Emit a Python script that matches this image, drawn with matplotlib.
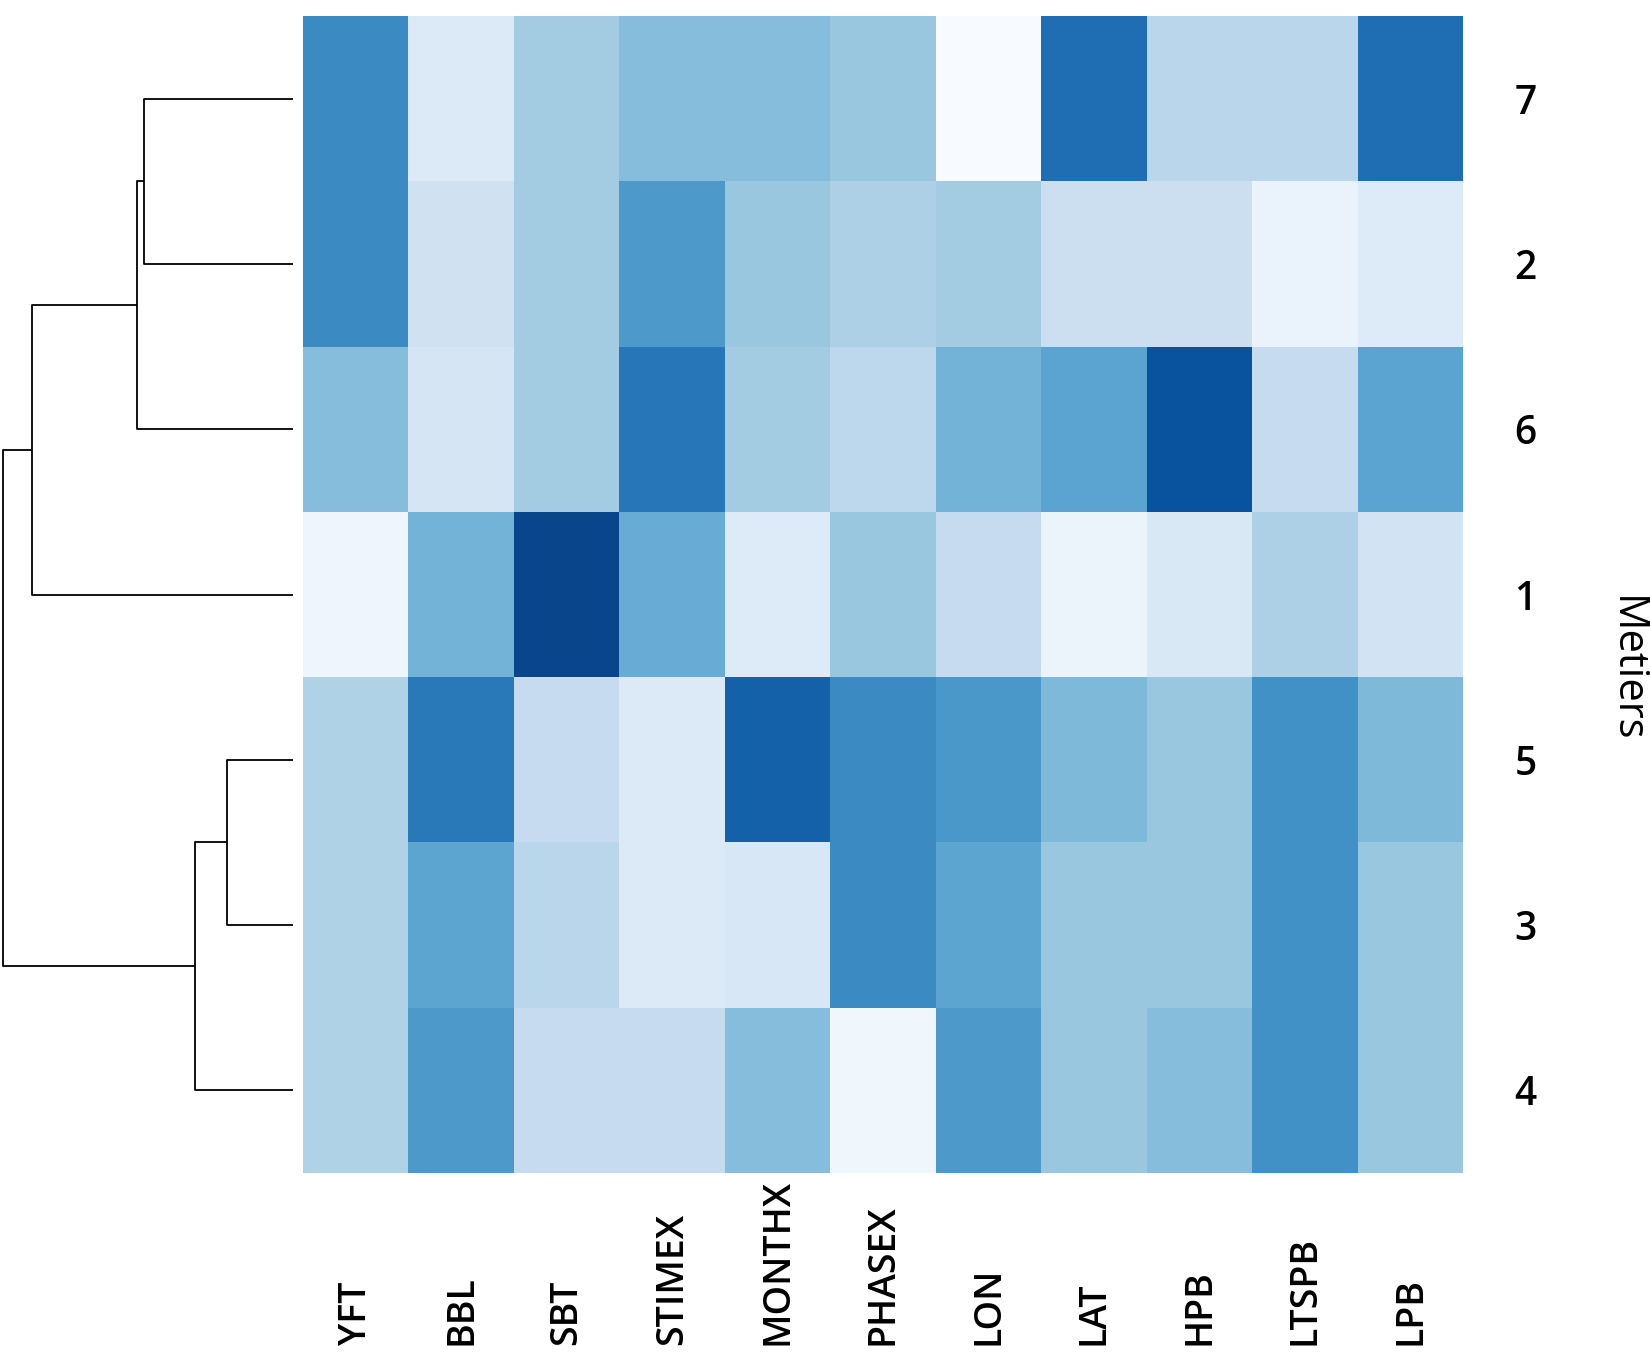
import matplotlib
matplotlib.use("Agg")
import matplotlib.pyplot as plt
import numpy as np

plt.rcParams["font.family"] = ["Open Sans", "DejaVu Sans"]

# ── data ──
variables = ["YFT", "BBL", "SBT", "STIMEX", "MONTHX", "PHASEX",
             "LON", "LAT", "HPB", "LTSPB", "LPB"]
metiers = ["7", "2", "6", "1", "5", "3", "4"]   # order after clustering (top to bottom)

m7 = [0.65, 0.14, 0.36, 0.43, 0.43, 0.39, 0.00, 0.76, 0.29, 0.29, 0.76]
m2 = [0.65, 0.20, 0.36, 0.59, 0.39, 0.33, 0.36, 0.22, 0.22, 0.07, 0.13]
m6 = [0.43, 0.17, 0.36, 0.73, 0.36, 0.28, 0.48, 0.55, 0.87, 0.25, 0.55]
m1 = [0.05, 0.48, 0.92, 0.51, 0.13, 0.39, 0.25, 0.06, 0.15, 0.33, 0.19]
m5 = [0.32, 0.72, 0.25, 0.14, 0.81, 0.65, 0.60, 0.45, 0.39, 0.625, 0.45]
m3 = [0.32, 0.54, 0.29, 0.14, 0.16, 0.65, 0.54, 0.39, 0.39, 0.625, 0.39]
m4 = [0.32, 0.59, 0.25, 0.25, 0.43, 0.04, 0.59, 0.39, 0.43, 0.625, 0.39]

# row linkage: (left, right, merge distance); new clusters get ids c0, c1, ...
linkage = [
    ("7", "2", 1.41),     # c0
    ("c0", "6", 1.48),    # c1
    ("c1", "1", 2.48),    # c2
    ("5", "3", 0.63),     # c3
    ("c3", "4", 0.93),    # c4
    ("c2", "c4", 2.75),   # c5
]

values = np.array([m7, m2, m6, m1, m5, m3, m4])

fig = plt.figure(figsize=(16.5, 13.62), dpi=100)
W, H = 1650, 1362

# heatmap axes (pixel box)
x0, x1, y0, y1 = 303, 1463, 16, 1173
ax = fig.add_axes([x0 / W, 1 - y1 / H, (x1 - x0) / W, (y1 - y0) / H])
ax.pcolormesh(values, cmap="Blues", vmin=0, vmax=1)
ax.set_xlim(0, len(variables))
ax.set_ylim(len(metiers), 0)
for s in ax.spines.values():
    s.set_visible(False)

ax.set_xticks(np.arange(len(variables)) + 0.5)
ax.set_xticklabels(variables, rotation=90, va="bottom", ha="center",
                   fontsize=27, fontweight="semibold")
ax.tick_params(axis="x", length=0, pad=124)

ax.yaxis.tick_right()
ax.set_yticks(np.arange(len(metiers)) + 0.5)
ax.set_yticklabels(metiers, fontsize=28, fontweight="semibold")
ax.tick_params(axis="y", length=0, pad=37)

fig.text(1626 / W, 1 - 669 / H, "Metiers", rotation=270, ha="center", va="center",
         fontsize=30)

# ── row dendrogram ──
dax = fig.add_axes([0, 1 - y1 / H, 293 / W, (y1 - y0) / H])
pos = {name: i + 0.5 for i, name in enumerate(metiers)}
height = {name: 0.0 for name in metiers}
for k, (a, b, d) in enumerate(linkage):
    ya, yb = pos[a], pos[b]
    dax.plot([height[a], d, d, height[b]], [ya, ya, yb, yb],
             color="black", linewidth=1.3, solid_capstyle="butt")
    pos["c%d" % k] = (ya + yb) / 2
    height["c%d" % k] = d
dax.set_xlim(2.78, 0)
dax.set_ylim(len(metiers), 0)
dax.axis("off")

plt.savefig("out.png", dpi=100)
